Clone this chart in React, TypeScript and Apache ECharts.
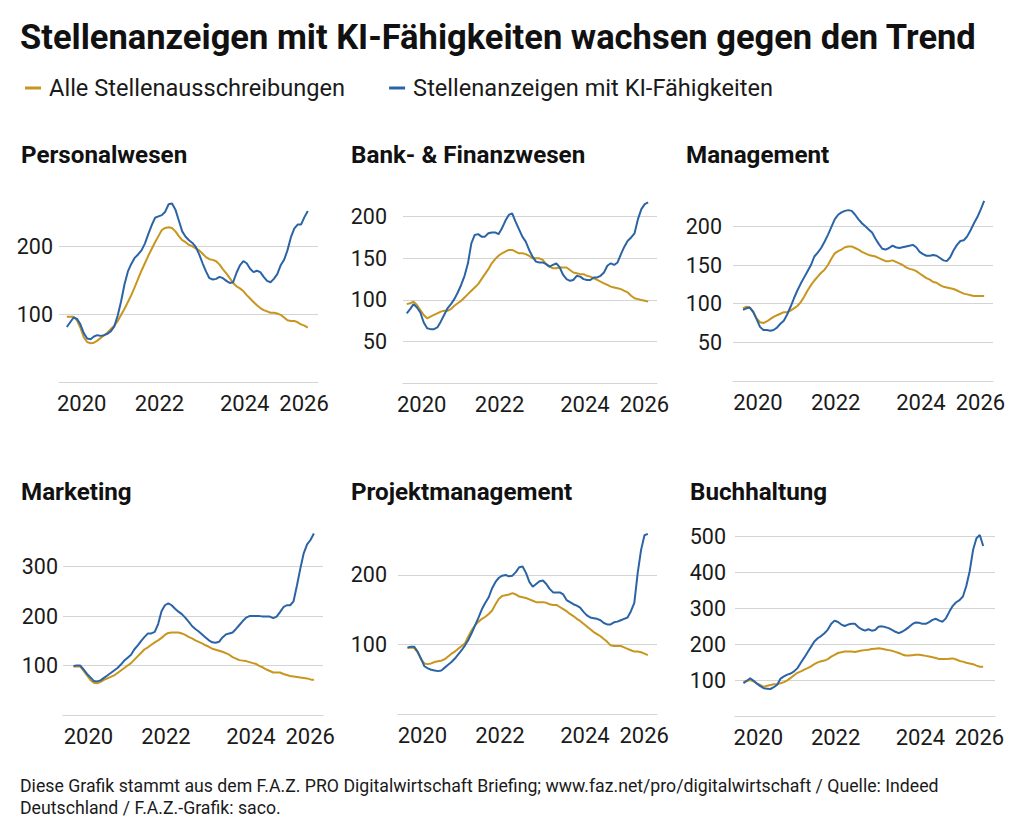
import React, { useEffect, useRef } from 'react';
import * as echarts from 'echarts';

// ---------- DATA (monthly index, first point = Feb 2020) ----------
const NAME_ALL = 'Alle Stellenausschreibungen';
const NAME_KI = 'Stellenanzeigen mit KI-Fähigkeiten';

const CATEGORIES = ['Personalwesen', 'Bank- & Finanzwesen', 'Management', 'Marketing', 'Projektmanagement', 'Buchhaltung'];

const X_TICK_POS = [4.4, 27.3, 52.4, 69.9];
const X_TICK_LABELS = ['2020', '2022', '2024', '2026'];

const Y_TICKS_PERSONAL = [100, 200];
const Y_TICKS_BANK = [50, 100, 150, 200];
const Y_TICKS_MGMT = [50, 100, 150, 200];
const Y_TICKS_MARKETING = [100, 200, 300];
const Y_TICKS_PROJEKT = [100, 200];
const Y_TICKS_BUCH = [100, 200, 300, 400, 500];

const ALL_PERSONAL = [96,96,96,91,80,66,59,57,58,61,65,69,73,78,83,90,99,108,118,128,140,152,164,175,186,196,206,215,224,227,228,227,222,215,209,206,202,200,197,194,189,184,181,180,178,173,166,160,153,146,141,138,134,128,123,118,113,109,106,104,102,102,101,99,95,91,90,90,88,85,83,80];
const KI_PERSONAL = [81,88,95,93,85,72,64,63,67,69,68,69,71,75,82,98,119,144,163,174,183,188,194,204,218,231,242,244,246,251,262,263,254,238,222,214,209,205,199,188,175,163,153,151,152,155,153,149,146,147,161,172,178,175,167,162,164,162,155,149,147,152,159,172,180,194,213,226,232,232,243,252];

const ALL_BANK = [95,96,98,94,88,82,78,80,82,84,86,87,87,89,93,96,99,103,107,111,115,119,125,131,137,144,149,153,156,158,160,160,158,156,156,155,153,150,150,150,148,143,140,138,138,139,139,139,136,133,132,131,131,129,128,126,124,122,120,118,116,115,114,113,111,109,105,102,101,100,99,98];
const KI_BANK = [84,89,95,91,85,73,66,65,65,67,74,82,90,95,101,109,118,129,144,168,178,179,176,176,180,181,181,179,186,195,202,204,194,185,176,170,160,152,146,145,145,143,140,142,144,139,130,125,123,124,129,128,125,124,124,127,127,129,133,141,144,142,145,155,164,171,175,180,197,209,215,217];

const ALL_MGMT = [94,96,95,90,81,76,75,77,80,83,85,87,89,89,91,94,97,102,109,117,124,130,135,140,144,150,158,165,168,170,173,174,174,172,170,167,165,163,162,161,159,157,155,155,156,154,152,150,147,145,144,142,139,136,133,131,128,127,124,122,121,120,119,117,115,113,112,111,110,110,110,110];
const KI_MGMT = [92,94,95,89,80,70,66,66,65,66,69,74,78,86,96,107,117,126,134,142,150,161,166,172,180,189,199,209,215,218,220,221,220,215,209,204,200,196,192,184,177,171,170,172,175,173,172,173,174,175,176,173,167,164,162,162,163,162,159,156,155,160,169,176,181,182,187,195,204,212,222,233];

const ALL_MARKETING = [98,98,98,89,80,71,65,64,67,71,74,77,80,85,90,95,100,105,112,119,126,133,137,142,147,151,156,162,166,167,167,167,165,162,158,155,151,148,145,141,138,134,132,130,128,125,122,117,114,111,110,109,107,105,103,99,96,92,89,86,86,86,83,81,79,78,77,76,75,74,72,71];
const KI_MARKETING = [99,100,100,92,83,76,69,68,70,75,80,85,90,95,102,110,116,122,133,141,150,158,165,165,168,184,210,222,226,222,215,209,204,197,189,180,174,169,163,157,151,147,146,148,157,163,165,167,174,182,190,197,200,200,200,200,199,199,199,196,199,208,218,222,222,230,262,296,327,345,354,367];

const ALL_PROJEKT = [95,96,95,89,79,73,72,73,75,76,77,79,83,87,90,94,98,102,112,121,128,133,137,140,144,149,158,166,170,171,172,174,172,169,168,167,165,163,161,161,161,160,158,157,157,154,151,148,144,141,137,134,130,126,122,118,115,112,108,104,99,98,98,98,96,94,92,90,90,89,87,85];
const KI_PROJEKT = [96,97,97,90,80,69,66,64,63,62,63,67,71,75,80,86,92,99,107,117,128,139,151,160,168,181,190,196,199,200,198,199,204,211,212,203,190,183,187,191,192,187,180,175,175,175,172,164,161,158,156,153,147,142,139,138,137,135,131,129,129,132,133,135,137,139,148,160,203,236,257,259];

const ALL_BUCH = [95,97,100,96,90,86,81,84,86,88,89,91,94,99,106,113,120,124,129,133,138,144,149,152,154,158,165,170,175,177,179,179,179,178,180,182,183,184,186,187,188,187,185,183,181,178,175,171,168,168,169,170,170,169,167,165,163,161,158,158,158,159,160,157,153,151,148,146,144,140,137,137];
const KI_BUCH = [91,98,105,98,90,83,77,76,75,80,87,104,110,115,118,124,133,148,162,177,192,207,216,222,230,240,256,265,261,254,250,254,256,256,247,241,237,241,237,239,248,249,247,244,239,234,230,234,240,247,255,260,259,256,256,261,267,270,265,262,272,290,306,316,322,332,361,402,461,494,503,472];

const ALL_SERIES = [ALL_PERSONAL, ALL_BANK, ALL_MGMT, ALL_MARKETING, ALL_PROJEKT, ALL_BUCH];
const KI_SERIES = [KI_PERSONAL, KI_BANK, KI_MGMT, KI_MARKETING, KI_PROJEKT, KI_BUCH];
const Y_TICKS = [Y_TICKS_PERSONAL, Y_TICKS_BANK, Y_TICKS_MGMT, Y_TICKS_MARKETING, Y_TICKS_PROJEKT, Y_TICKS_BUCH];

const TITLE = 'Stellenanzeigen mit KI-Fähigkeiten wachsen gegen den Trend';
const FOOTER_1 = 'Diese Grafik stammt aus dem F.A.Z. PRO Digitalwirtschaft Briefing; www.faz.net/pro/digitalwirtschaft / Quelle: Indeed';
const FOOTER_2 = 'Deutschland / F.A.Z.-Grafik: saco.';

// ---------- LAYOUT / STYLE ----------
const FONT = 'Roboto, "Noto Sans", sans-serif';
const COLOR_ALL = '#c8961e';
const COLOR_KI = '#2b64a6';
const GRID_COLOR = '#d4d4d4';
const TEXT_COLOR = '#1a1a1a';

const LAYOUT = [
  { left: 59, right: 318, y0: 382, ppu: 0.6785, xMin: -2.3, xMax: 74.0, yMax: 275, yMargin: 6, titleX: 21, titleY: 155 },
  { left: 403, right: 657, y0: 383.3, ppu: 0.8333, xMin: -1.1, xMax: 73.6, yMax: 225, yMargin: 16, titleX: 351, titleY: 155 },
  { left: 733, right: 993, y0: 381, ppu: 0.7733, xMin: -2.95, xMax: 73.6, yMax: 240, yMargin: 11, titleX: 686, titleY: 155 },
  { left: 63, right: 323, y0: 715, ppu: 0.4944, xMin: -3.1, xMax: 73.7, yMax: 375, yMargin: 5, titleX: 21, titleY: 492 },
  { left: 398, right: 657, y0: 714.3, ppu: 0.6967, xMin: -2.8, xMax: 73.7, yMax: 265, yMargin: 11, titleX: 351, titleY: 492 },
  { left: 735, right: 995, y0: 716, ppu: 0.36, xMin: -2.5, xMax: 74.5, yMax: 510, yMargin: 9, titleX: 690, titleY: 492 },
];

function buildOption() {
  const grid: any[] = [];
  const xAxis: any[] = [];
  const yAxis: any[] = [];
  const series: any[] = [];
  const graphic: any[] = [];

  graphic.push({
    type: 'text', x: 20, y: 37,
    style: { text: TITLE, fontFamily: FONT, fontSize: 34.5, fontWeight: 'bold', fill: '#111', verticalAlign: 'middle' },
  });
  graphic.push({
    type: 'text', x: 20, y: 786,
    style: { text: FOOTER_1, fontFamily: FONT, fontSize: 17.7, fill: TEXT_COLOR, verticalAlign: 'middle' },
  });
  graphic.push({
    type: 'text', x: 20, y: 808,
    style: { text: FOOTER_2, fontFamily: FONT, fontSize: 17.7, fill: TEXT_COLOR, verticalAlign: 'middle' },
  });

  LAYOUT.forEach((L, i) => {
    const height = L.yMax * L.ppu;
    grid.push({
      left: L.left, top: L.y0 - height, width: L.right - L.left, height,
      containLabel: false, outerBoundsMode: 'none',
    });
    xAxis.push({
      type: 'value', gridIndex: i, min: L.xMin, max: L.xMax,
      axisLine: { show: true, lineStyle: { color: GRID_COLOR, width: 1 } },
      axisTick: { show: false, customValues: X_TICK_POS },
      splitLine: { show: false },
      axisLabel: {
        customValues: X_TICK_POS,
        formatter: (v: number) => {
          const k = X_TICK_POS.findIndex((p) => Math.abs(p - v) < 1e-6);
          return k >= 0 ? X_TICK_LABELS[k] : '';
        },
        margin: 10, fontSize: 22, color: TEXT_COLOR, fontFamily: FONT,
      },
    });
    yAxis.push({
      type: 'value', gridIndex: i, min: 0, max: L.yMax,
      axisLine: { show: false },
      axisTick: { show: false, customValues: Y_TICKS[i] },
      splitLine: { show: true, lineStyle: { color: GRID_COLOR, width: 1 } },
      axisLabel: {
        customValues: Y_TICKS[i],
        margin: L.yMargin, fontSize: 21.5, color: TEXT_COLOR, fontFamily: FONT,
      },
    });
    series.push({
      type: 'line', name: NAME_ALL, xAxisIndex: i, yAxisIndex: i,
      data: ALL_SERIES[i].map((v, j) => [j, v]),
      symbol: 'none', showSymbol: false, color: COLOR_ALL,
      lineStyle: { width: 2, color: COLOR_ALL }, z: 2,
    });
    series.push({
      type: 'line', name: NAME_KI, xAxisIndex: i, yAxisIndex: i,
      data: KI_SERIES[i].map((v, j) => [j, v]),
      symbol: 'none', showSymbol: false, color: COLOR_KI,
      lineStyle: { width: 2, color: COLOR_KI }, z: 3,
    });
    graphic.push({
      type: 'text', x: L.titleX, y: L.titleY,
      style: { text: CATEGORIES[i], fontFamily: FONT, fontSize: 24.2, fontWeight: 'bold', fill: '#111', verticalAlign: 'middle' },
    });
  });

  return {
    animation: false,
    backgroundColor: '#ffffff',
    legend: {
      left: 20, top: 71, icon: 'rect', itemWidth: 16, itemHeight: 3, itemGap: 44,
      selectedMode: false,
      data: [NAME_ALL, NAME_KI],
      textStyle: { fontSize: 23.6, color: TEXT_COLOR, fontFamily: FONT, padding: [0, 0, 0, 3] },
    },
    grid, xAxis, yAxis, series, graphic,
  };
}

export default function App() {
  const ref = useRef<HTMLDivElement>(null);
  useEffect(() => {
    if (!ref.current) return;
    const chart = echarts.init(ref.current, null, { renderer: 'svg' });
    chart.setOption(buildOption() as any);
    return () => chart.dispose();
  }, []);
  return (
    <div
      ref={ref}
      style={{ position: 'absolute', left: 0, top: 0, width: 1024, height: 837, background: '#fff' }}
    />
  );
}
